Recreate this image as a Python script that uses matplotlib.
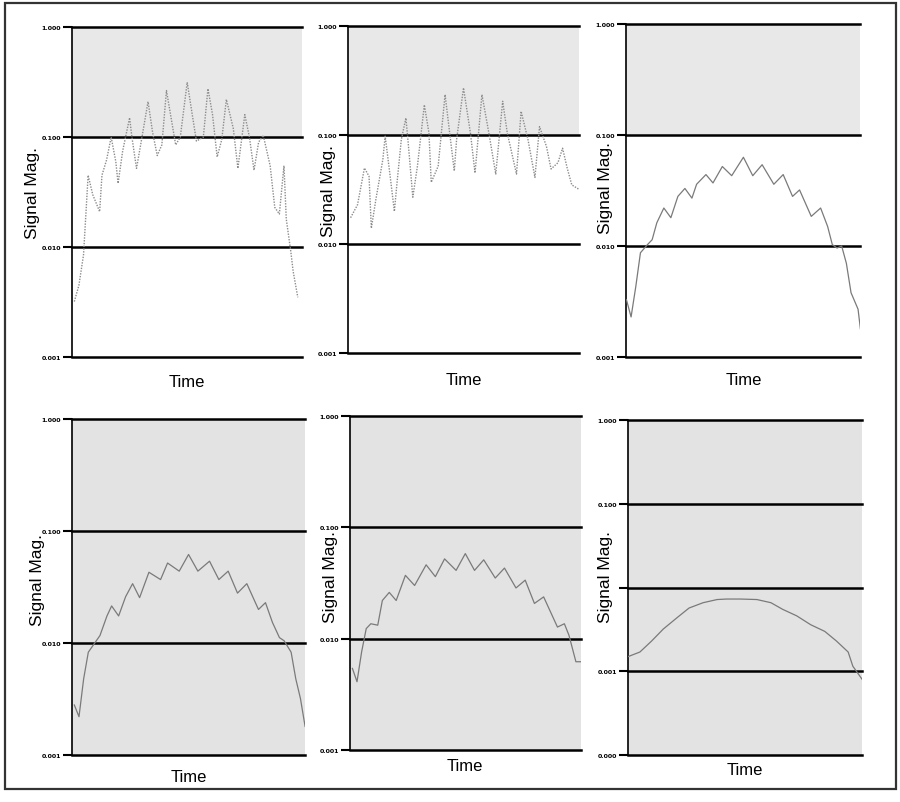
import matplotlib
matplotlib.use("Agg")
import matplotlib.pyplot as plt
from matplotlib.patches import Rectangle

plt.rcParams['font.family'] = ['Liberation Sans', 'DejaVu Sans']

# values (time in % of record, magnitude)
t1 = [1, 3, 5, 7, 9, 12, 13, 15, 17, 19, 20, 22, 25, 26, 28, 30, 33, 35, 37, 39,
      41, 43, 45, 47, 50, 52, 54, 57, 59, 61, 63, 65, 67, 70, 72, 75, 77, 79, 81, 83,
      86, 88, 90, 92, 93, 95, 96, 98]
v1 = [0.0032, 0.0045, 0.0085, 0.045, 0.030, 0.021, 0.045, 0.062, 0.100, 0.060,
      0.038, 0.075, 0.150, 0.100, 0.052, 0.090, 0.210, 0.110, 0.068, 0.085,
      0.265, 0.150, 0.085, 0.100, 0.315, 0.170, 0.092, 0.100, 0.275, 0.160,
      0.066, 0.095, 0.220, 0.120, 0.052, 0.160, 0.100, 0.050, 0.090, 0.104,
      0.055, 0.023, 0.020, 0.055, 0.018, 0.009, 0.006, 0.0035]

t2 = [1, 4, 7, 9, 10, 12, 15, 16, 18, 20, 21, 23, 25, 26, 28, 30, 33, 35, 36, 39,
      42, 44, 46, 47, 50, 53, 55, 58, 61, 64, 67, 69, 73, 75, 78, 81, 83, 86, 88, 91,
      93, 95, 97, 100]
v2 = [0.0175, 0.023, 0.050, 0.042, 0.014, 0.026, 0.060, 0.098, 0.045, 0.020,
      0.034, 0.091, 0.144, 0.085, 0.027, 0.052, 0.190, 0.105, 0.037, 0.052,
      0.236, 0.105, 0.047, 0.091, 0.272, 0.105, 0.045, 0.236, 0.105, 0.044,
      0.205, 0.105, 0.044, 0.166, 0.091, 0.041, 0.120, 0.079, 0.049, 0.056,
      0.076, 0.050, 0.035, 0.032]

t3 = [0, 2, 4, 6, 9, 11, 13, 16, 19, 22, 25, 28, 30, 34, 37, 41, 45, 50, 54, 58,
      63, 67, 71, 74, 79, 83, 86, 88, 90, 92, 94, 96, 99, 100]
v3 = [0.0033, 0.0023, 0.0043, 0.0087, 0.0103, 0.0114, 0.0162, 0.022, 0.018, 0.028,
      0.033, 0.027, 0.036, 0.044, 0.037, 0.052, 0.043, 0.063, 0.043, 0.054,
      0.036, 0.044, 0.028, 0.032, 0.0185, 0.022, 0.015, 0.0103, 0.0096, 0.0100,
      0.0070, 0.0038, 0.0027, 0.0018]

t4 = [1, 3, 5, 7, 10, 12, 15, 17, 20, 23, 26, 29, 33, 38, 41, 46, 50, 54, 59, 63,
      67, 71, 75, 80, 83, 86, 89, 91, 94, 96, 98, 100]
v4 = [0.0028, 0.0022, 0.0048, 0.0083, 0.0102, 0.0117, 0.0175, 0.0215, 0.0175, 0.026,
      0.034, 0.0255, 0.043, 0.037, 0.052, 0.044, 0.062, 0.044, 0.054, 0.037,
      0.044, 0.028, 0.034, 0.020, 0.023, 0.0153, 0.0112, 0.0105, 0.0083, 0.0048,
      0.0032, 0.0018]

t5 = [1, 3, 5, 7, 9, 12, 14, 17, 20, 24, 28, 33, 37, 41, 46, 50, 54, 58, 63, 67,
      72, 76, 80, 84, 90, 93, 95, 98, 100]
v5 = [0.0054, 0.0041, 0.0076, 0.0123, 0.0136, 0.0132, 0.022, 0.026, 0.022, 0.037,
      0.030, 0.046, 0.036, 0.052, 0.041, 0.058, 0.041, 0.051, 0.035, 0.043,
      0.0285, 0.0335, 0.0207, 0.0237, 0.0127, 0.0136, 0.0107, 0.0062, 0.0062]

t6 = [0, 5, 10, 15, 21, 26, 32, 38, 42, 48, 55, 61, 66, 72, 78, 84, 89, 94, 96, 100]
v6 = [0.0015, 0.0017, 0.0023, 0.0032, 0.0044, 0.0057, 0.0066, 0.0072, 0.0073, 0.0073,
      0.0072, 0.0066, 0.0055, 0.0046, 0.0036, 0.0030, 0.0023, 0.0017, 0.00115, 0.00080]

decades_3 = [1.0, 0.1, 0.01, 0.001]
labels_3 = ["1.000", "0.100", "0.010", "0.001"]
decades_4 = [1.0, 0.1, 0.01, 0.001, 0.0001]
labels_4 = ["1.000", "0.100", "", "0.001", "0.000"]

panels = [
    # t, v, decades, labels, [left, bottom, width, height], ylabel pos, Time offset, style, row
    (t1, v1, decades_3, labels_3, [0.080, 0.554, 0.256, 0.411], (-0.17, 0.50), -0.075, ':', 'top'),
    (t2, v2, decades_3, labels_3, [0.387, 0.559, 0.256, 0.407], (-0.087, 0.50), -0.08, ':', 'top'),
    (t3, v3, decades_3, labels_3, [0.696, 0.554, 0.260, 0.415], (-0.09, 0.51), -0.066, '-', 'top'),
    (t4, v4, decades_3, labels_3, [0.080, 0.0585, 0.259, 0.418], (-0.146, 0.525), -0.065, '-', 'bottom'),
    (t5, v5, decades_3, labels_3, [0.389, 0.0648, 0.256, 0.416], (-0.087, 0.52), -0.048, '-', 'bottom'),
    (t6, v6, decades_4, labels_4, [0.698, 0.0585, 0.260, 0.417], (-0.098, 0.534), -0.042, '-', 'bottom'),
]

fig = plt.figure(figsize=(9, 8.03), dpi=100)

# scanned page frame
fig.patches.append(Rectangle((0.005, 0.016), 0.990, 0.979, transform=fig.transFigure,
                             fill=False, edgecolor='#333333', linewidth=1.6))

for t, v, decades, labels, rect, lab_pos, time_y, ls, row in panels:
    ax = fig.add_axes(rect)
    ax.set_yscale('log')
    ax.set_ylim(decades[-1], decades[0])
    ax.set_xlim(0, 100)

    if row == 'top':
        # grey show-through only on the upper part of the scanned page
        ax.set_facecolor('white')
        ax.axhspan(0.1, 1.0, color='#e8e8e8', zorder=0)
    else:
        ax.set_facecolor('#e3e3e3')

    for d in decades:
        ax.axhline(d, color='black', linewidth=1.8, clip_on=False, zorder=2)

    if ls == ':':
        ax.plot(t, v, color='#8c8c8c', linewidth=1.0, linestyle=(0, (1, 1)), zorder=3)
    else:
        ax.plot(t, v, color='#7a7a7a', linewidth=0.9, zorder=3)

    for s in ['top', 'right', 'bottom']:
        ax.spines[s].set_visible(False)
    ax.spines['left'].set_linewidth(1.2)

    ax.set_xticks([])
    ax.yaxis.set_minor_locator(plt.NullLocator())
    ax.set_yticks(decades)
    ax.set_yticklabels(labels, fontsize=4.5, fontweight='bold', family='DejaVu Sans')
    ax.tick_params(axis='y', length=6.5, width=1.5, pad=1.5, color='black')

    ax.text(lab_pos[0], lab_pos[1], 'Signal Mag.', transform=ax.transAxes,
            rotation=90, ha='center', va='center', fontsize=12.5)
    ax.text(0.5, time_y, 'Time', transform=ax.transAxes,
            ha='center', va='center', fontsize=12)

fig.savefig('out.png', dpi=100)
